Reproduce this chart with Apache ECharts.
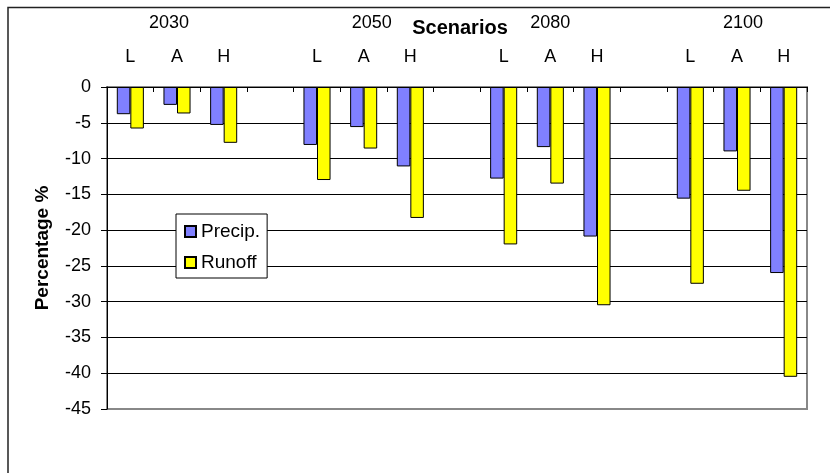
<!DOCTYPE html>
<html>
<head>
<meta charset="utf-8">
<script src="https://cdn.jsdelivr.net/npm/echarts@6/dist/echarts.min.js"></script>
<style>
html,body{margin:0;padding:0;background:#fff;}
#c{width:830px;height:473px;}
</style>
</head>
<body>
<div id="c"></div>
<script>
var years = ['2030', '2050', '2080', '2100'];
var scenarios = ['L', 'A', 'H'];
var precip = [-3.8, -2.5, -5.3, -8.1, -5.6, -11.1, -12.8, -8.4, -20.9, -15.6, -9.0, -26.0];
var runoff = [-5.8, -3.7, -7.8, -13.0, -8.6, -18.3, -22.0, -13.5, -30.5, -27.5, -14.5, -40.5];
var yTicks = { min: -45, max: 0, interval: 5 };

// Build category slots: L A H, blank separator, ...
var cats = [], yearCats = [], pData = [], rData = [];
years.forEach(function (y, gi) {
  scenarios.forEach(function (s, si) {
    cats.push(s);
    yearCats.push(si === 1 ? y : '');
    pData.push(precip[gi * 3 + si]);
    rData.push(runoff[gi * 3 + si]);
  });
  if (gi < years.length - 1) {
    cats.push('');
    yearCats.push('');
    pData.push(null);
    rData.push(null);
  }
});

var font = 'Liberation Sans, Arial, sans-serif';
// small horizontal nudges of the year labels (style only)
var yearRich = {
  y0: { fontFamily: font, fontSize: 18, color: '#000', padding: [0, 16, 0, 0] },
  y1: { fontFamily: font, fontSize: 18, color: '#000', padding: [0, 0, 0, 16] },
  y2: { fontFamily: font, fontSize: 18, color: '#000', padding: [0, 0, 0, 0] },
  y3: { fontFamily: font, fontSize: 18, color: '#000', padding: [0, 0, 0, 12] }
};

var chart = echarts.init(document.getElementById('c'));
chart.setOption({
  animation: false,
  textStyle: { fontFamily: font, color: '#000' },
  title: {
    text: 'Scenarios',
    left: 455,
    top: 13,
    textAlign: 'center',
    textStyle: { fontFamily: font, fontSize: 20, fontWeight: 'bold', color: '#000' }
  },
  graphic: [{
    type: 'rect',
    shape: { x: 8, y: 7.5, width: 900, height: 600 },
    style: { fill: 'none', stroke: '#222', lineWidth: 1.5 },
    silent: true
  }],
  legend: {
    orient: 'vertical',
    left: 176,
    top: 214,
    padding: [8, 7, 6, 8],
    itemGap: 12,
    itemWidth: 11,
    itemHeight: 11,
    itemTextGap: 7,
    backgroundColor: '#fff',
    borderColor: '#000',
    borderWidth: 1,
    icon: 'rect',
    textStyle: { fontFamily: font, fontSize: 19, color: '#000' },
    data: ['Precip.', 'Runoff']
  },
  grid: {
    left: 107, right: 23, top: 87, bottom: 64,
    show: true,
    borderColor: '#888',
    borderWidth: 2,
    backgroundColor: '#fff'
  },
  xAxis: [{
    type: 'category',
    position: 'top',
    data: cats,
    axisLine: { show: true, lineStyle: { color: '#000', width: 1 } },
    axisTick: { show: true, inside: true, length: 5, lineStyle: { color: '#000' } },
    axisLabel: { fontFamily: font, fontSize: 18, color: '#000', margin: 21, interval: 0 },
    splitLine: { show: false }
  }, {
    type: 'category',
    position: 'top',
    offset: 34,
    data: yearCats,
    axisLine: { show: false },
    axisTick: { show: false },
    axisLabel: {
      fontFamily: font, fontSize: 18, color: '#000', margin: 21, interval: 0,
      formatter: function (v) {
        var i = years.indexOf(v);
        return i < 0 ? '' : '{y' + i + '|' + v + '}';
      },
      rich: yearRich
    },
    splitLine: { show: false }
  }],
  yAxis: {
    type: 'value',
    min: yTicks.min,
    max: yTicks.max,
    interval: yTicks.interval,
    name: 'Percentage %',
    nameLocation: 'middle',
    nameGap: 55,
    nameTextStyle: { fontFamily: font, fontSize: 19, fontWeight: 'bold', color: '#000' },
    axisLine: { show: true, lineStyle: { color: '#000', width: 1 } },
    axisTick: { show: true, length: 6, lineStyle: { color: '#000' } },
    axisLabel: { fontFamily: font, fontSize: 18, color: '#000', margin: 16 },
    splitLine: { show: true, showMinLine: false, lineStyle: { color: '#000', width: 1 } }
  },
  series: [{
    name: 'Precip.',
    type: 'bar',
    xAxisIndex: 0,
    data: pData,
    barGap: '0%',
    barCategoryGap: '42%',
    itemStyle: { color: '#8080FF', borderColor: '#000', borderWidth: 1 }
  }, {
    name: 'Runoff',
    type: 'bar',
    xAxisIndex: 0,
    data: rData,
    barGap: '0%',
    barCategoryGap: '42%',
    itemStyle: { color: '#FFFF00', borderColor: '#000', borderWidth: 1 }
  }]
});
</script>
</body>
</html>
